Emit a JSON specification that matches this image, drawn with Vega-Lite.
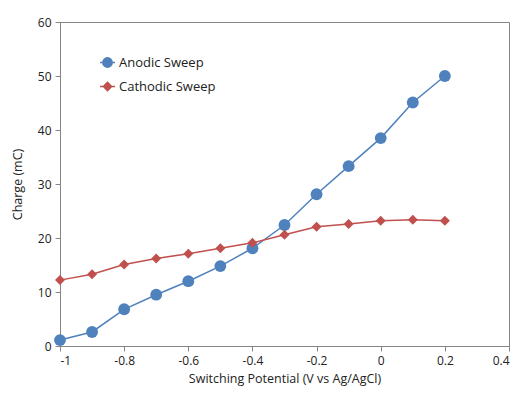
{
  "$schema": "https://vega.github.io/schema/vega-lite/v6.json",
  "width": 449,
  "height": 324,
  "autosize": "none",
  "padding": {"left": 60, "top": 22, "right": 10, "bottom": 49},
  "background": "white",
  "config": {
    "view": {"stroke": "#868686", "strokeWidth": 1},
    "font": "Open Sans",
    "axis": {
      "grid": false,
      "domainColor": "#868686",
      "tickColor": "#868686",
      "tickSize": 5,
      "labelColor": "#222222",
      "labelFontSize": 12,
      "titleFontSize": 12.5,
      "titleFontWeight": "normal",
      "titleColor": "#222222"
    }
  },
  "data": {
    "values": [
      {"v": -1.0, "q": 1.1, "s": "Anodic Sweep"},
      {"v": -0.9, "q": 2.6, "s": "Anodic Sweep"},
      {"v": -0.8, "q": 6.8, "s": "Anodic Sweep"},
      {"v": -0.7, "q": 9.5, "s": "Anodic Sweep"},
      {"v": -0.6, "q": 12.0, "s": "Anodic Sweep"},
      {"v": -0.5, "q": 14.8, "s": "Anodic Sweep"},
      {"v": -0.4, "q": 18.1, "s": "Anodic Sweep"},
      {"v": -0.3, "q": 22.4, "s": "Anodic Sweep"},
      {"v": -0.2, "q": 28.1, "s": "Anodic Sweep"},
      {"v": -0.1, "q": 33.3, "s": "Anodic Sweep"},
      {"v": 0.0, "q": 38.5, "s": "Anodic Sweep"},
      {"v": 0.1, "q": 45.1, "s": "Anodic Sweep"},
      {"v": 0.2, "q": 50.0, "s": "Anodic Sweep"},
      {"v": -1.0, "q": 12.2, "s": "Cathodic Sweep"},
      {"v": -0.9, "q": 13.3, "s": "Cathodic Sweep"},
      {"v": -0.8, "q": 15.1, "s": "Cathodic Sweep"},
      {"v": -0.7, "q": 16.2, "s": "Cathodic Sweep"},
      {"v": -0.6, "q": 17.1, "s": "Cathodic Sweep"},
      {"v": -0.5, "q": 18.1, "s": "Cathodic Sweep"},
      {"v": -0.4, "q": 19.1, "s": "Cathodic Sweep"},
      {"v": -0.3, "q": 20.6, "s": "Cathodic Sweep"},
      {"v": -0.2, "q": 22.1, "s": "Cathodic Sweep"},
      {"v": -0.1, "q": 22.6, "s": "Cathodic Sweep"},
      {"v": 0.0, "q": 23.2, "s": "Cathodic Sweep"},
      {"v": 0.1, "q": 23.4, "s": "Cathodic Sweep"},
      {"v": 0.2, "q": 23.2, "s": "Cathodic Sweep"}
    ]
  },
  "encoding": {
    "x": {
      "field": "v",
      "type": "quantitative",
      "scale": {"domain": [-1, 0.4], "nice": false, "zero": false},
      "axis": {
        "title": "Switching Potential (V vs Ag/AgCl)",
        "values": [-1, -0.8, -0.6, -0.4, -0.2, 0, 0.2, 0.4],
        "labelExpr": "replace(format(datum.value, '~g'), '\u2212', '-')",
        "labelPadding": 4,
        "titlePadding": 6
      }
    },
    "y": {
      "field": "q",
      "type": "quantitative",
      "scale": {"domain": [0, 60], "nice": false},
      "axis": {
        "title": "Charge (mC)",
        "values": [0, 10, 20, 30, 40, 50, 60],
        "labelPadding": 4,
        "titlePadding": 13
      }
    },
    "color": {
      "field": "s",
      "type": "nominal",
      "scale": {"domain": ["Anodic Sweep", "Cathodic Sweep"], "range": ["#4F81BD", "#C0504D"]},
      "legend": {
        "title": null,
        "orient": "none",
        "legendX": 39,
        "legendY": 32,
        "labelFontSize": 13,
        "labelColor": "#222222",
        "symbolSize": 225,
        "symbolStrokeWidth": 1.5,
        "rowPadding": 7,
        "labelOffset": 3,
        "encode": {
          "symbols": {
            "update": {
              "shape": {"signal": "datum.value === 'Anodic Sweep' ? 'M-1,0H1M0.62,0A0.62,0.62,0,1,0,-0.62,0A0.62,0.62,0,1,0,0.62,0Z' : 'M-1,0H1M0,-0.55L0.55,0L0,0.55L-0.55,0Z'"},
              "stroke": {"signal": "datum.value === 'Anodic Sweep' ? '#4F81BD' : '#C0504D'"},
              "fill": {"signal": "datum.value === 'Anodic Sweep' ? '#4F81BD' : '#C0504D'"},
              "strokeWidth": {"value": 1.5},
              "opacity": {"value": 1}
            }
          }
        }
      }
    }
  },
  "layer": [
    {
      "mark": {"type": "line", "strokeWidth": 1.5}
    },
    {
      "transform": [{"filter": "datum.s === 'Anodic Sweep'"}],
      "mark": {"type": "point", "filled": true, "opacity": 1, "shape": "circle", "size": 140}
    },
    {
      "transform": [{"filter": "datum.s === 'Cathodic Sweep'"}],
      "mark": {"type": "point", "filled": true, "opacity": 1, "shape": "diamond", "size": 100}
    }
  ]
}
